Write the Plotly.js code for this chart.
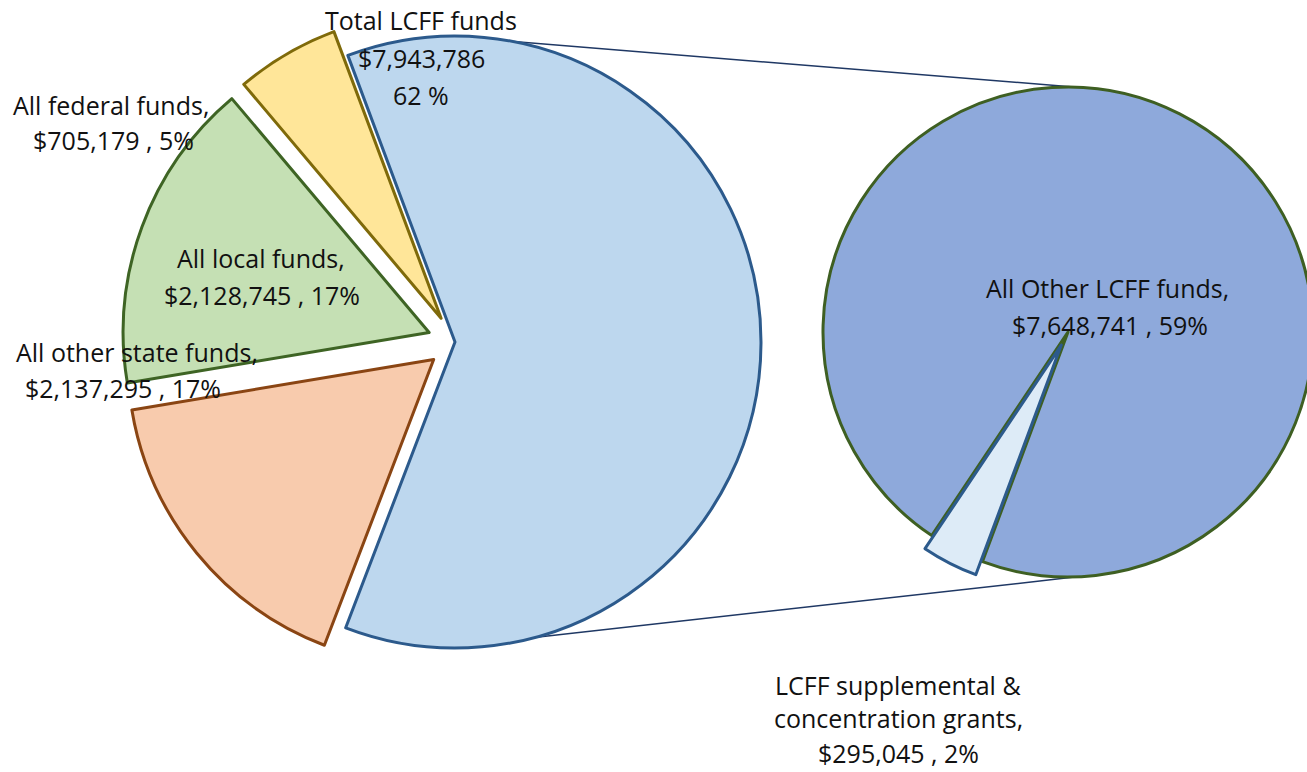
<!DOCTYPE html>
<html><head><meta charset="utf-8">
<script src="https://cdn.plot.ly/plotly-3.0.1.min.js"></script>
<style>html,body{margin:0;padding:0;overflow:hidden;background:#fff;width:1307px;height:772px}</style>
</head><body><div id="chart"></div>
<script>
// ---- data ----
const mainLabels = ['Total LCFF funds', 'All other state funds', 'All local funds', 'All federal funds'];
const mainValues = [7943786, 2137295, 2128745, 705179];
const mainPercents = [62, 17, 17, 5];
const subLabels = ['All Other LCFF funds', 'LCFF supplemental & concentration grants'];
const subValues = [7648741, 295045];
const subPercents = [59, 2];

// ---- geometry / style (pixels) ----
const W = 1340, H = 772;
const L = {cx: 455, cy: 342, r: 306, pull: 0.09, rot: -20.5};
const R = {cx: 1068, cy: 332, r: 245, pull: 0.06, rot: 213.8};

function domainFor(p, maxPull) {
  const half = p.r * (1 + maxPull);
  return {x: [(p.cx - half) / W, (p.cx + half) / W],
          y: [(H - p.cy - half) / H, (H - p.cy + half) / H]};
}
const money = v => '$' + v.toLocaleString('en-US');

const mainTrace = {
  type: 'pie', labels: mainLabels, values: mainValues, sort: false,
  direction: 'clockwise', rotation: L.rot, textinfo: 'none', hoverinfo: 'label+value',
  pull: [0, L.pull, L.pull, L.pull],
  domain: domainFor(L, L.pull), showlegend: false,
  marker: {colors: ['#BDD7EE', '#F8CBAD', '#C5E0B4', '#FFE699'],
           line: {color: ['#2C5A8C', '#8A4513', '#3E6424', '#7F6A0A'], width: 3}}
};
const subTrace = {
  type: 'pie', labels: subLabels, values: subValues, sort: false,
  direction: 'clockwise', rotation: R.rot, textinfo: 'none', hoverinfo: 'label+value',
  pull: [0, R.pull],
  domain: domainFor(R, R.pull), showlegend: false,
  marker: {colors: ['#8EA9DB', '#DDEBF7'],
           line: {color: ['#3E5F22', '#2C5A8C'], width: 3}}
};

// label lines
const labelLines = [
  {lines: [mainLabels[0], money(mainValues[0]), mainPercents[0] + ' %'], x: 421, y: [20, 58, 95]},
  {lines: [mainLabels[1] + ',', money(mainValues[1]) + ' , ' + mainPercents[1] + '%'], x: [137, 123], y: [352, 388]},
  {lines: [mainLabels[2] + ',', money(mainValues[2]) + ' , ' + mainPercents[2] + '%'], x: [261, 262], y: [258, 295]},
  {lines: [mainLabels[3] + ',', money(mainValues[3]) + ' , ' + mainPercents[3] + '%'], x: [111, 113], y: [105, 140]},
  {lines: [subLabels[0] + ',', money(subValues[0]) + ' , ' + subPercents[0] + '%'], x: [1107, 1110], y: [288, 325]},
  {lines: ['LCFF supplemental &', 'concentration grants,', money(subValues[1]) + ' , ' + subPercents[1] + '%'], x: 898, y: [685, 718, 753]}
];
const annotations = [];
labelLines.forEach(l => {
  l.lines.forEach((t, i) => {
    const px = Array.isArray(l.x) ? l.x[i] : l.x;
    annotations.push({text: t, x: px / W, y: 1 - l.y[i] / H, xref: 'paper', yref: 'paper',
      showarrow: false, xanchor: 'center', yanchor: 'middle',
      font: {family: '"Open Sans", sans-serif', size: 25, color: '#111'}});
  });
});

// connector lines from the LCFF slice to the sub pie
function onCircle(p, deg) {
  const a = deg * Math.PI / 180;
  return [p.cx + p.r * Math.sin(a), p.cy - p.r * Math.cos(a)];
}
const t0 = onCircle(L, 11), t1 = onCircle(R, 2);
const b0 = onCircle(L, 165), b1 = onCircle(R, 178);
const shapes = [[t0, t1], [b0, b1]].map(([a, b]) => ({
  type: 'line', xref: 'paper', yref: 'paper',
  x0: a[0] / W, y0: 1 - a[1] / H, x1: b[0] / W, y1: 1 - b[1] / H,
  line: {color: '#1F3864', width: 1.5}, layer: 'below'
}));

Plotly.newPlot('chart', [mainTrace, subTrace], {
  width: W, height: H, margin: {l: 0, r: 0, t: 0, b: 0},
  paper_bgcolor: '#fff', plot_bgcolor: '#fff', showlegend: false,
  annotations: annotations, shapes: shapes
}, {displayModeBar: false});
</script></body></html>
